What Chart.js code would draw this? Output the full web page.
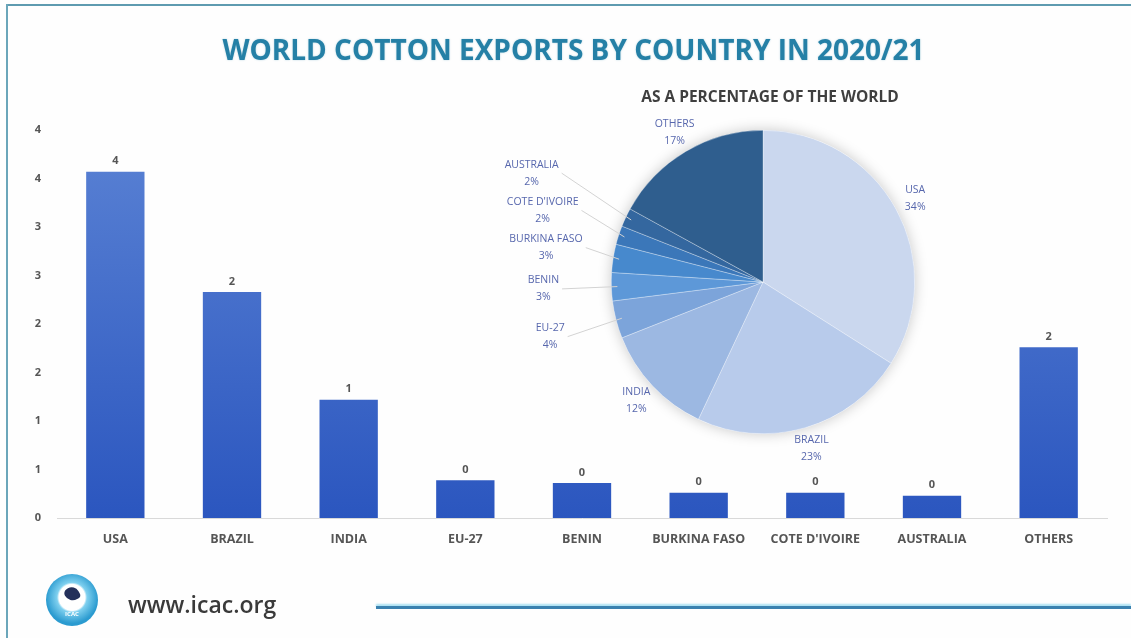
<!DOCTYPE html>
<html>
<head>
<meta charset="utf-8">
<script src="https://cdn.jsdelivr.net/npm/chart.js@4.4.1/dist/chart.umd.min.js"></script>
<style>
  html, body { margin: 0; padding: 0; background: #fff; }
  #page { position: relative; width: 1131px; height: 638px; overflow: hidden; background: #fefefe; font-family: "Open Sans", sans-serif; }
  .topline { position: absolute; left: 6px; top: 4px; width: 1125px; height: 2px; background: #5e9bb0; }
  .leftline { position: absolute; left: 6px; top: 4px; width: 2px; height: 634px; background: #6ba6ba; }
  #title { position: absolute; left: 8px; width: 1131px; top: 30px; text-align: center; font: bold 28px "Open Sans"; color: #2580a6; text-shadow: 0 0 2px rgba(37,128,166,0.35); }
  #subtitle { position: absolute; left: 620px; width: 300px; top: 85px; text-align: center; font: bold 15.5px "Open Sans"; color: #3f3f3f; }
  #barCanvas { position: absolute; left: 0; top: 0; }
  #pieCanvas { position: absolute; left: 460px; top: 100px; }
  .logo { position: absolute; left: 46px; top: 574px; width: 52px; height: 52px; border-radius: 50%;
          background: radial-gradient(circle at 50% 45%, #ffffff 0 13px, #7fd0ef 15px, #2b9bd0 26px); }
  .logo span { position: absolute; left: 0; width: 52px; top: 36px; text-align: center; font: bold 6px "Open Sans"; color: #fff; }
  .logo b { position: absolute; left: 19px; top: 13px; width: 14px; height: 14px; border-radius: 40% 60% 30% 70%; background: #24305a; transform: rotate(-30deg); }
  #url { position: absolute; left: 128px; top: 588px; font: 600 23px "Open Sans"; color: #3a3a3a; }
  .bottomline { position: absolute; left: 376px; top: 606px; width: 755px; height: 3px; background: #3a82b0; box-shadow: 0 -2px 2px #a9e0f2; }
</style>
</head>
<body>
<div id="page">
  <div class="topline"></div>
  <div class="leftline"></div>
  <canvas id="barCanvas" width="1131" height="638"></canvas>
  <div id="title">WORLD COTTON EXPORTS BY COUNTRY IN 2020/21</div>
  <div id="subtitle">AS A PERCENTAGE OF THE WORLD</div>
  <canvas id="pieCanvas" width="520" height="400"></canvas>
  <div class="logo"><b></b><span>ICAC</span></div>
  <div id="url">www.icac.org</div>
  <div class="bottomline"></div>
</div>
<script>
// exports, million tonnes
const countries = ['USA', 'BRAZIL', 'INDIA', 'EU-27', 'BENIN', 'BURKINA FASO', "COTE D'IVOIRE", 'AUSTRALIA', 'OTHERS'];
const exportsMt = [3.57, 2.33, 1.22, 0.39, 0.36, 0.26, 0.26, 0.23, 1.76];

// share of world exports, % (pie labels)
const shareLabels = countries;
const sharePct = [34, 23, 12, 4, 3, 3, 2, 2, 17];

const yTicks = { min: 0, max: 4, step: 0.5 };

const pieColors = ['#cad7ee', '#b8cbeb', '#9cb8e2', '#7ca4da', '#5d98d8', '#4789cd', '#3b77b9', '#34679f', '#2f5e8e'];

// value labels on top of the bars
const barValues = {
  id: 'barValues',
  afterDatasetsDraw(chart) {
    const ctx = chart.ctx;
    const meta = chart.getDatasetMeta(0);
    ctx.save();
    ctx.font = 'bold 11px "Open Sans"';
    ctx.fillStyle = '#555';
    ctx.textAlign = 'center';
    ctx.textBaseline = 'bottom';
    meta.data.forEach((bar, i) => {
      ctx.fillText(Math.round(exportsMt[i]), bar.x, bar.y - 5);
    });
    ctx.restore();
  }
};

const barCtx = document.getElementById('barCanvas').getContext('2d');
new Chart(barCtx, {
  type: 'bar',
  data: {
    labels: countries,
    datasets: [{
      data: exportsMt,
      backgroundColor(c) {
        const area = c.chart.chartArea;
        if (!area) return '#3a63c8';
        const g = c.chart.ctx.createLinearGradient(0, area.top, 0, area.bottom);
        g.addColorStop(0, '#5a82d4');
        g.addColorStop(1, '#2b56bf');
        return g;
      },
      categoryPercentage: 1,
      barPercentage: 0.5
    }]
  },
  options: {
    responsive: false,
    animation: false,
    devicePixelRatio: 1,
    layout: { padding: { left: 21, right: 24, top: 130, bottom: 0 } },
    plugins: { legend: { display: false }, tooltip: { enabled: false } },
    scales: {
      x: {
        grid: { display: false, drawTicks: false },
        border: { color: '#d9d9d9', width: 1 },
        ticks: { padding: 14, color: '#555', font: { family: 'Open Sans', weight: 'bold', size: 12.5 } },
        afterFit(s) { s.height = 120; }
      },
      y: {
        min: yTicks.min,
        max: yTicks.max,
        grid: { display: false, drawTicks: false },
        border: { display: false },
        ticks: {
          stepSize: yTicks.step,
          padding: 16,
          color: '#555',
          font: { family: 'Open Sans', weight: 'bold', size: 11 },
          callback: v => Math.round(v)
        },
        afterFit(s) { s.width = 36; }
      }
    }
  },
  plugins: [barValues]
});

// soft shadow under the pie and labels with leader lines
const pieShadow = {
  id: 'pieShadow',
  beforeDatasetsDraw(chart) {
    const arc = chart.getDatasetMeta(0).data[0];
    if (!arc) return;
    const ctx = chart.ctx;
    ctx.save();
    ctx.shadowColor = 'rgba(0,0,0,0.22)';
    ctx.shadowBlur = 14;
    ctx.fillStyle = '#ffffff';
    ctx.beginPath();
    ctx.arc(arc.x, arc.y, arc.outerRadius, 0, Math.PI * 2);
    ctx.fill();
    ctx.restore();
  }
};

const pieLabels = {
  id: 'pieLabels',
  afterDatasetsDraw(chart) {
    const ctx = chart.ctx;
    const meta = chart.getDatasetMeta(0);
    const placed = [];
    ctx.save();
    ctx.font = '10.5px "Open Sans"';
    ctx.textAlign = 'center';
    ctx.textBaseline = 'middle';
    meta.data.forEach((arc, i) => {
      const p = arc.getProps(['x', 'y', 'startAngle', 'endAngle', 'outerRadius'], true);
      const mid = (p.startAngle + p.endAngle) / 2;
      const name = shareLabels[i];
      const pct = sharePct[i] + '%';
      const w = Math.max(ctx.measureText(name).width, ctx.measureText(pct).width) + 6;
      const h = 37;
      // thin slices get their label pushed out with a leader line
      const small = sharePct[i] < 5;
      let d = p.outerRadius + (small ? 68 : 22), lx, ly;
      for (let k = 0; k < 200; k++) {
        lx = p.x + Math.cos(mid) * d;
        ly = p.y + Math.sin(mid) * d;
        const hit = placed.some(b => Math.abs(b.x - lx) < (b.w + w) / 2 && Math.abs(b.y - ly) < (b.h + h) / 2);
        if (!hit) break;
        d += 3;
      }
      placed.push({ x: lx, y: ly, w, h });
      if (small) {
        const ex = p.x + Math.cos(mid) * (p.outerRadius - 6);
        const ey = p.y + Math.sin(mid) * (p.outerRadius - 6);
        const sx = lx + (lx < p.x ? w / 2 : -w / 2);
        ctx.strokeStyle = '#d3d3d3';
        ctx.lineWidth = 1;
        ctx.beginPath();
        ctx.moveTo(sx, ly);
        ctx.lineTo(ex, ey);
        ctx.stroke();
      }
      ctx.fillStyle = '#5767ad';
      ctx.fillText(name, lx, ly - 8.5);
      ctx.fillText(pct, lx, ly + 8.5);
    });
    ctx.restore();
  }
};

const pieCtx = document.getElementById('pieCanvas').getContext('2d');
new Chart(pieCtx, {
  type: 'pie',
  data: {
    labels: shareLabels,
    datasets: [{
      data: sharePct,
      backgroundColor: pieColors,
      borderColor: 'rgba(255,255,255,0.5)',
      borderWidth: 0.6
    }]
  },
  options: {
    responsive: false,
    animation: false,
    devicePixelRatio: 1,
    layout: { padding: { left: 151, right: 65, top: 30, bottom: 66 } },
    plugins: { legend: { display: false }, tooltip: { enabled: false } }
  },
  plugins: [pieShadow, pieLabels]
});
</script>
</body>
</html>
